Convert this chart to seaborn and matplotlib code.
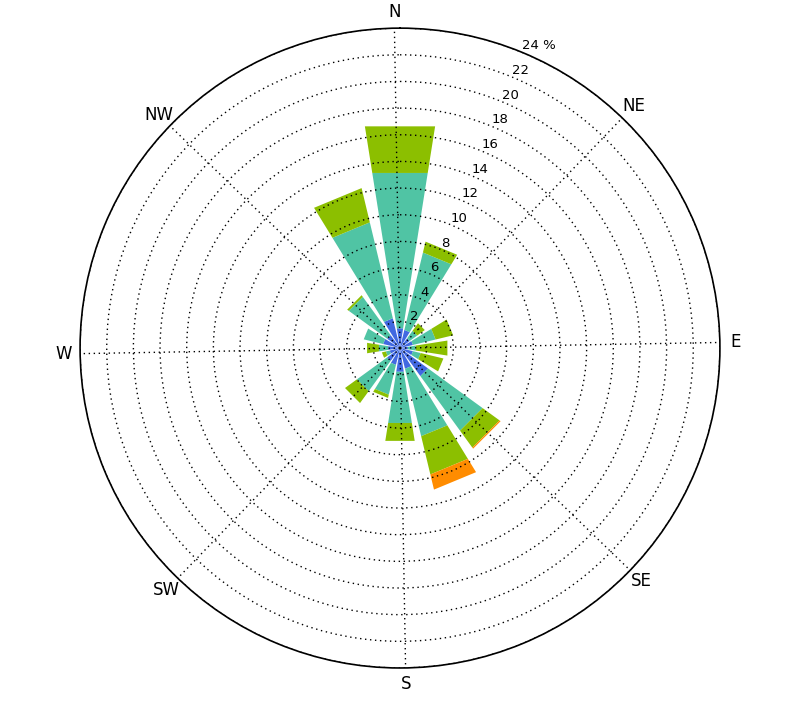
import numpy as np
import matplotlib
matplotlib.use('Agg')
import matplotlib.pyplot as plt
import seaborn as sns

sns.set_theme(style='white')
plt.rcParams['font.family'] = ['DejaVu Sans']
plt.rcParams['text.color'] = 'black'
plt.rcParams['xtick.color'] = 'black'
plt.rcParams['ytick.color'] = 'black'

# 16 compass sectors, clockwise from north
directions = ['N', 'NNE', 'NE', 'ENE', 'E', 'ESE', 'SE', 'SSE',
              'S', 'SSW', 'SW', 'WSW', 'W', 'WNW', 'NW', 'NNW']
bearings = np.arange(0, 360, 22.5)

# frequency (%) for each speed class, per sector
bin1 = [1.5, 1.4, 0.9, 1.0, 0.6, 1.0, 2.6, 1.6, 1.8, 1.3, 1.2, 0.8, 0.9, 1.3, 1.2, 2.3]
bin2 = [11.8, 5.97, 0.7, 1.75, 0.6, 0.6, 5.06, 5.2, 3.89, 2.3, 2.8, 0.3, 0.7, 1.5, 3.55, 7.4]
bin3 = [3.54, 0.84, 0.7, 1.35, 2.4, 1.75, 1.57, 2.95, 1.36, 0.25, 1.1, 0.3, 0.9, 0.0, 0.15, 2.64]
bin4 = [0, 0, 0, 0, 0, 0, 0.1, 1.17, 0, 0, 0, 0, 0, 0, 0, 0]

compass_labels = ['N', 'NE', 'E', 'SE', 'S', 'SW', 'W', 'NW']
r_ticks = list(range(2, 25, 2))
r_labels = [str(t) for t in r_ticks[:-1]] + ['24 %']

colors = sns.color_palette(['#4169e1', '#50c4a4', '#8cbf00', '#ff8c00'])

fig = plt.figure(figsize=(8, 7.07), dpi=100)
ax = fig.add_axes([0.1, 0.0552, 0.8, 0.905], projection='polar')
ax.set_theta_zero_location('N')
ax.set_theta_direction(-1)

theta = np.radians(bearings)
width = np.radians(22.5 * 0.8)
bottom = np.zeros(len(directions))
for vals, c in zip([bin1, bin2, bin3, bin4], colors):
    vals = np.array(vals)
    bars = ax.bar(theta, vals, width=width, bottom=bottom, color=c,
                  edgecolor='none', linewidth=0)
    bottom += vals
# straight outer edges, like windrose sectors
bars.patches[0].get_path()._interpolation_steps = 1

ax.set_axisbelow(False)
ax.grid(True, linestyle=(0, (1, 2.6)), color='black', linewidth=1.0)
ax.set_thetagrids((np.arange(0, 360, 45) - 1) % 360, labels=compass_labels, fontsize=12)
ax.set_rgrids(r_ticks, labels=r_labels, angle=22.5, fontsize=9.5)
ax.tick_params(axis='x', pad=-1.5)
ax.set_xlim(0, 2 * np.pi)
ax.set_ylim(0, 24)
ax.spines['polar'].set_color('black')
ax.spines['polar'].set_linewidth(1.2)

fig.savefig('out.png', dpi=100)
